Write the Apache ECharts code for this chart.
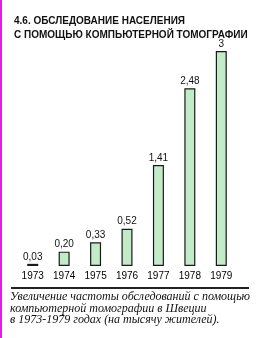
<!DOCTYPE html>
<html>
<head>
<meta charset="utf-8">
<script src="https://cdn.jsdelivr.net/npm/echarts@6/dist/echarts.min.js"></script>
<style>
  html, body { margin: 0; padding: 0; background: #fff; }
  #chart { width: 268px; height: 338px; }
</style>
</head>
<body>
<div id="chart"></div>
<script>
// годы и значения (на тысячу жителей)
var years = ['1973', '1974', '1975', '1976', '1977', '1978', '1979'];
var values = [0.03, 0.20, 0.33, 0.52, 1.41, 2.48, 3];
var valueLabels = ['0,03', '0,20', '0,33', '0,52', '1,41', '2,48', '3'];

var titleText = '4.6. ОБСЛЕДОВАНИЕ НАСЕЛЕНИЯ\nС ПОМОЩЬЮ КОМПЬЮТЕРНОЙ ТОМОГРАФИИ';
var captionLines = [
  'Увеличение частоты обследований с помощью',
  'компьютерной томографии в Швеции',
  'в 1973-1979 годах (на тысячу жителей).'
];

var chart = echarts.init(document.getElementById('chart'));

var captionGraphics = captionLines.map(function (line, i) {
  return {
    type: 'text',
    left: 10,
    top: 291 + i * 11.5,
    style: {
      text: line,
      fill: '#111',
      font: 'italic 12px "Liberation Serif", "DejaVu Serif", serif'
    }
  };
});

chart.setOption({
  backgroundColor: '#fff',
  animation: false,
  title: {
    text: titleText,
    left: 9,
    top: 9,
    textStyle: {
      fontFamily: '"Liberation Sans", Arial, sans-serif',
      fontSize: 10,
      fontWeight: 'bold',
      color: '#111',
      lineHeight: 14
    }
  },
  grid: {
    left: 17,
    right: 31,
    top: 51,
    bottom: 72
  },
  xAxis: {
    type: 'category',
    data: years,
    axisLine: { show: false },
    axisTick: { show: false },
    axisLabel: {
      interval: 0,
      margin: 5,
      fontFamily: '"Liberation Sans", Arial, sans-serif',
      fontSize: 10,
      color: '#000'
    }
  },
  yAxis: {
    type: 'value',
    min: 0,
    max: 3,
    show: false
  },
  series: [{
    type: 'bar',
    data: values,
    barWidth: 11,
    itemStyle: {
      color: '#c2ecc8',
      borderColor: '#1a1a1a',
      borderWidth: 1.2
    },
    label: {
      show: true,
      position: 'top',
      distance: 2,
      fontFamily: '"Liberation Sans", Arial, sans-serif',
      fontSize: 10,
      color: '#111',
      formatter: function (p) { return valueLabels[p.dataIndex]; }
    }
  }],
  graphic: [
    {
      type: 'rect',
      left: 0,
      top: 0,
      shape: { width: 2, height: 338 },
      style: { fill: '#e020e0' }
    },
    {
      type: 'rect',
      left: 11,
      top: 287,
      shape: { width: 238, height: 2 },
      style: { fill: '#222' }
    }
  ].concat(captionGraphics)
});
</script>
</body>
</html>
